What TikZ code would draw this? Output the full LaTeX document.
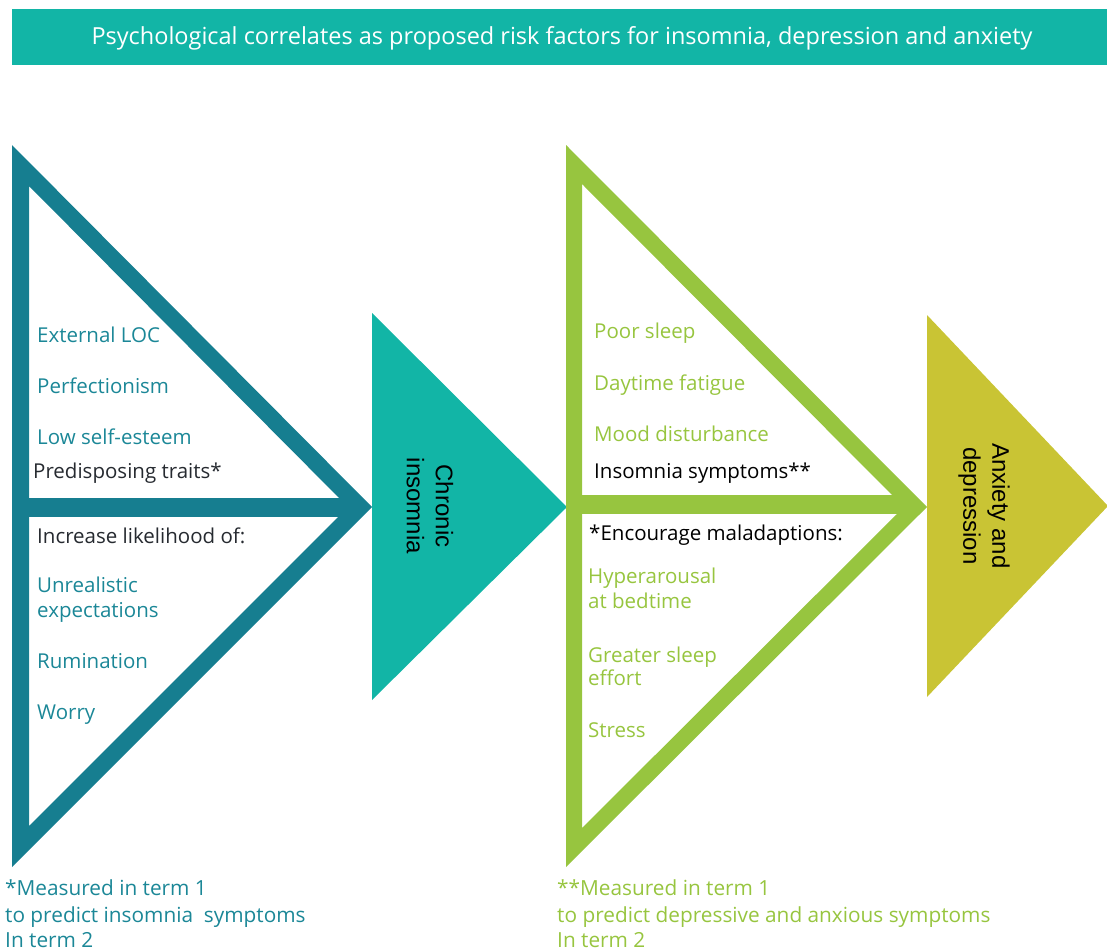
\documentclass[tikz,border=0pt]{standalone}
\usepackage{fontspec}
\setmainfont{Open Sans}
\newfontfamily\arialfont{Liberation Sans}

\definecolor{darkteal}{HTML}{167E90}
\definecolor{brightteal}{HTML}{12B5A6}
\definecolor{leafgreen}{HTML}{97C53F}
\definecolor{mustard}{HTML}{C9C434}
\definecolor{tealtext}{HTML}{1B8797}
\definecolor{inktext}{HTML}{262A30}

\begin{document}
\begin{tikzpicture}[x=1pt,y=-1pt,
    item/.style={anchor=base west, inner sep=0pt, font=\fontsize{20.5}{24}\selectfont},
    tealitem/.style={item, text=tealtext},
    greenitem/.style={item, text=leafgreen},
    heading/.style={item, text=inktext},
    note/.style={font=\fontsize{20.8}{25}\selectfont},
    stage/.style={rotate=-90, align=center, inner sep=0pt, text=black,
        font=\arialfont\fontsize{24}{29}\selectfont}]
    \useasboundingbox (0,0) rectangle (1107,950);

    % Title bar
    \fill[brightteal] (12,9) rectangle (1107,65);
    \node[anchor=base, inner sep=0pt, text=white, font=\fontsize{23.5}{28}\selectfont] (title) at (562,45)
        {Psychological correlates as proposed risk factors for insomnia, depression and anxiety};

    % Predisposing traits triangle
    \fill[darkteal, even odd rule] (12,145) -- (372,507) -- (12,867) -- cycle
        (29,186) -- (348,507) -- (29,826) -- cycle;
    \fill[darkteal] (17,498) rectangle (352,517);

    % Chronic insomnia
    \fill[brightteal] (372,313) -- (567,507) -- (372,700) -- cycle;
    \node[stage] (chronic) at (430,506) {Chronic\\insomnia};

    % Insomnia symptoms triangle
    \fill[leafgreen, even odd rule] (566,145) -- (927,507) -- (566,867) -- cycle
        (582,184) -- (904,507) -- (582,828) -- cycle;
    \fill[leafgreen] (571,495) rectangle (906,514);

    % Outcome
    \fill[mustard] (927,315) -- (1108,506) -- (927,697) -- cycle;
    \node[stage] (outcome) at (984,506) {Anxiety and\\depression};

    % Labels left
    \node[tealitem] (loc) at (37,342) {External LOC};
    \node[tealitem] (perfect) at (37,393) {Perfectionism};
    \node[tealitem] (esteem) at (37,444) {Low self-esteem};
    \node[heading] (traits) at (33,478) {Predisposing traits*};
    \node[heading] (likely) at (37,543) {Increase likelihood of:};
    \node[tealitem] (unreal) at (37,592) {Unrealistic};
    \node[tealitem] (expect) at (37,617) {expectations};
    \node[tealitem] (rumin) at (37,668) {Rumination};
    \node[tealitem] (worry) at (37,719) {Worry};

    % Labels right
    \node[greenitem] (poor) at (594,338) {Poor sleep};
    \node[greenitem] (fatigue) at (594,390) {Daytime fatigue};
    \node[greenitem] (mood) at (594,441) {Mood disturbance};
    \node[heading, text=black] (symptoms) at (594,478) {Insomnia symptoms**};
    \node[heading, text=black] (malad) at (589,540) {*Encourage maladaptions:};
    \node[greenitem] (hyper) at (588,583) {Hyperarousal};
    \node[greenitem] (bedtime) at (588,608) {at bedtime};
    \node[greenitem] (effort1) at (588,662) {Greater sleep};
    \node[greenitem] (effort2) at (588,685) {effort};
    \node[greenitem] (stress) at (588,737) {Stress};

    % Footnotes
    \node[tealitem, note] (noteA1) at (5,895) {*Measured in term 1};
    \node[tealitem, note] (noteA2) at (5,922) {to predict insomnia~ symptoms};
    \node[tealitem, note] (noteA3) at (5,947) {In term 2};
    \node[greenitem, note] (noteB1) at (557,895) {**Measured in term 1};
    \node[greenitem, note] (noteB2) at (557,922) {to predict depressive and anxious symptoms};
    \node[greenitem, note] (noteB3) at (557,947) {In term 2};
\end{tikzpicture}
\end{document}
